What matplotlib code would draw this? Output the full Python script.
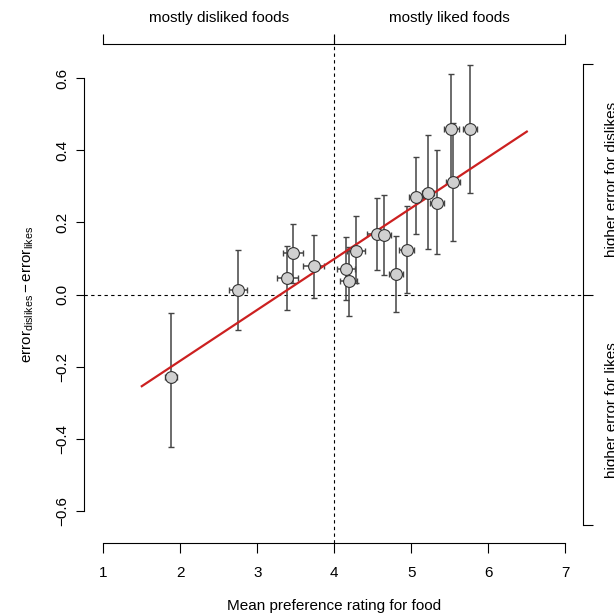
import matplotlib
matplotlib.use('Agg')
import numpy as np
import matplotlib.pyplot as plt

plt.rcParams['font.family'] = ['Liberation Sans', 'DejaVu Sans']
plt.rcParams['mathtext.fontset'] = 'custom'
plt.rcParams['mathtext.rm'] = 'Liberation Sans'
plt.rcParams['mathtext.it'] = 'Liberation Sans:italic'

# mean preference rating per food and its error
pref = np.array([1.88, 2.75, 3.39, 3.47, 3.73, 4.15, 4.19, 4.28, 4.55, 4.64,
                 4.80, 4.94, 5.06, 5.22, 5.33, 5.52, 5.54, 5.76])
pref_err = np.array([0.08, 0.12, 0.14, 0.13, 0.14, 0.12, 0.11, 0.12, 0.12, 0.10,
                     0.09, 0.10, 0.09, 0.08, 0.09, 0.095, 0.09, 0.09])
# error_dislikes - error_likes, with lower / upper interval bounds
diff = np.array([-0.228, 0.013, 0.046, 0.114, 0.079, 0.070, 0.038, 0.122, 0.168, 0.166,
                 0.057, 0.125, 0.272, 0.282, 0.254, 0.458, 0.313, 0.458])
diff_lo = np.array([-0.423, -0.098, -0.043, 0.031, -0.010, -0.015, -0.059, 0.032, 0.068, 0.054,
                    -0.047, 0.005, 0.167, 0.126, 0.113, 0.300, 0.150, 0.281])
diff_hi = np.array([-0.052, 0.123, 0.134, 0.196, 0.166, 0.159, 0.132, 0.217, 0.268, 0.276,
                    0.163, 0.245, 0.382, 0.442, 0.401, 0.612, 0.477, 0.638])

# regression line end points
fit_x = [1.5, 6.5]
fit_y = [-0.254, 0.452]

W, H = 614, 616
fig = plt.figure(figsize=(W / 100, H / 100), dpi=100)
ax = fig.add_axes([103.3 / W, (H - 525.4) / H, 462 / W, 461.6 / H])
ax.set_xlim(1, 7)
ax.set_ylim(-0.64, 0.64)

# reference lines
ax.plot([4, 4], [-0.689, 0.72], color='black', lw=0.8, dashes=(3, 3), clip_on=False, zorder=1)
ax.plot([0.753, 7.23], [0, 0], color='black', lw=0.8, dashes=(3, 3), clip_on=False, zorder=1)

ax.errorbar(pref, diff, xerr=pref_err, yerr=[diff - diff_lo, diff_hi - diff], fmt='none',
            ecolor='#444444', elinewidth=1.1, capsize=2, capthick=1.0, zorder=2)
ax.plot(fit_x, fit_y, color='#cc2020', lw=1.6, zorder=2.5)
ax.plot(pref, diff, 'o', ms=8.5, mfc='#d0d0d0', mec='#333333', mew=0.8, zorder=3)

# axes
for s in ['top', 'right']:
    ax.spines[s].set_visible(False)
ax.spines['bottom'].set_position(('outward', 12.7))
ax.spines['bottom'].set_bounds(1, 7)
ax.spines['left'].set_position(('outward', 13.7))
ax.spines['left'].set_bounds(-0.6, 0.6)
for s in ['bottom', 'left']:
    ax.spines[s].set_linewidth(0.8)

ax.set_xticks([1, 2, 3, 4, 5, 6, 7])
ax.set_yticks([-0.6, -0.4, -0.2, 0.0, 0.2, 0.4, 0.6])
ax.set_yticklabels(['\u22120.6', '\u22120.4', '\u22120.2', '0.0', '0.2', '0.4', '0.6'])
ax.tick_params(axis='x', direction='out', length=7.2, width=0.8, pad=9, labelsize=11)
ax.tick_params(axis='y', direction='out', length=5.8, width=0.8, pad=5, labelsize=11,
               labelrotation=90)
for lab in ax.get_yticklabels():
    lab.set_va('center')

top = ax.secondary_xaxis(1 + 19.8 / 461.6)
top.set_xticks([1, 4, 7])
top.set_xticklabels([])
top.tick_params(direction='out', length=7, width=0.8)
top.spines['top'].set_linewidth(0.8)

right = ax.secondary_yaxis(1 + 18 / 462)
right.set_yticks([-0.64, 0, 0.64])
right.set_yticklabels([])
right.tick_params(direction='out', length=7, width=0.8)
right.spines['right'].set_linewidth(0.8)

ax.text(2.5, 0.767, 'mostly disliked foods', ha='center', va='center', fontsize=11, clip_on=False)
ax.text(5.5, 0.767, 'mostly liked foods', ha='center', va='center', fontsize=11, clip_on=False)
ax.text(7.606, 0.32, 'higher error for dislikes', ha='center', va='center', rotation=90,
        fontsize=11, clip_on=False)
ax.text(7.606, -0.32, 'higher error for likes', ha='center', va='center', rotation=90,
        fontsize=11, clip_on=False)

fig.text(334 / W, 1 - 606 / H, 'Mean preference rating for food', ha='center', va='center',
         fontsize=11)
fig.text(28 / W, 1 - 294.6 / H,
         r'$\mathrm{error}_{\mathrm{dislikes}} - \mathrm{error}_{\mathrm{likes}}$',
         rotation=90, ha='center', va='center', fontsize=11)

fig.savefig('out.png', dpi=100)
